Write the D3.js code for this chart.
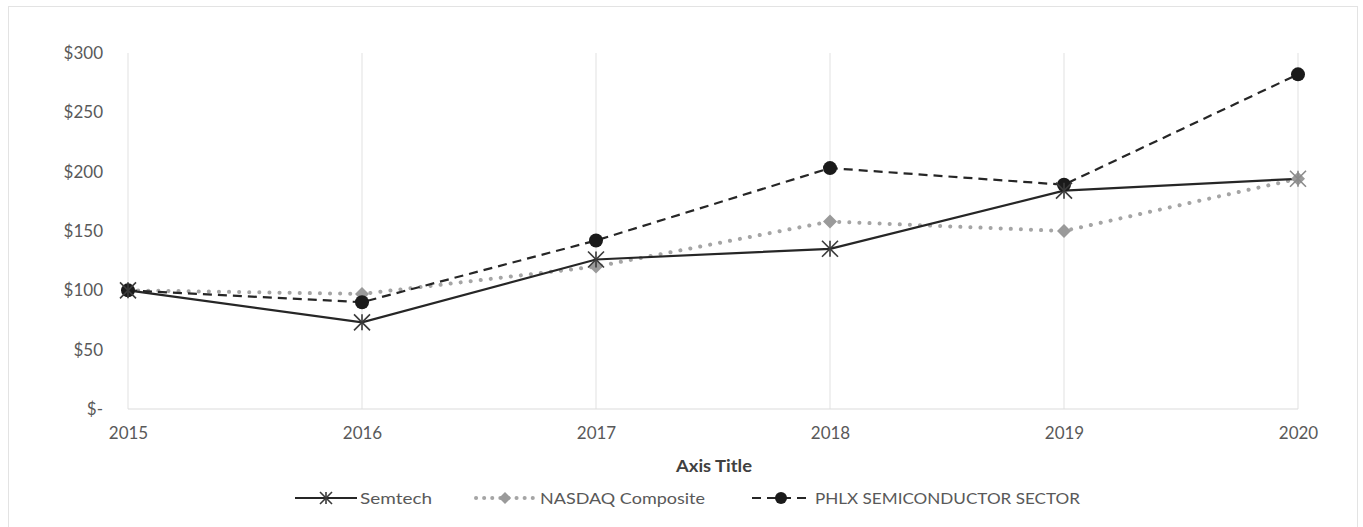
<!DOCTYPE html>
<html><head><meta charset="utf-8">
<script src="https://cdn.jsdelivr.net/npm/d3@7"></script>
<style>body{margin:0;background:#fff;}text{font-family:Lato,"Open Sans","Liberation Sans",sans-serif;}</style>
</head><body>
<svg id="c" width="1363" height="527"></svg>
<script>
const years = [2015, 2016, 2017, 2018, 2019, 2020];
const semtech = [100, 73, 126, 135, 184, 194];
const nasdaq = [100, 97, 120, 158, 150, 194];
const phlx = [100, 90, 142, 203, 189, 282];
const yTicks = [0, 50, 100, 150, 200, 250, 300];
const seriesNames = ["Semtech", "NASDAQ Composite", "PHLX SEMICONDUCTOR SECTOR"];

const svg = d3.select("#c");
svg.append("rect").attr("x", 8.5).attr("y", 6.5).attr("width", 1349).attr("height", 540)
  .attr("fill", "#fff").attr("stroke", "#e3e3e3");

const x = d3.scalePoint().domain(years).range([128, 1298]);
const y = d3.scaleLinear().domain([0, 300]).range([409, 53]);

// vertical gridlines
svg.append("g").selectAll("line").data(years).join("line")
  .attr("x1", d => x(d)).attr("x2", d => x(d)).attr("y1", y(300)).attr("y2", y(0))
  .attr("stroke", "#e6e6e6").attr("stroke-width", 1.2);
// baseline
svg.append("line").attr("x1", x(2015)).attr("x2", x(2020)).attr("y1", y(0)).attr("y2", y(0))
  .attr("stroke", "#dcdcdc").attr("stroke-width", 1.2);

// y axis
const yAxis = d3.axisLeft(y).tickValues(yTicks).tickSize(0).tickPadding(0)
  .tickFormat(d => d === 0 ? "$-" : "$" + d);
const ya = svg.append("g").attr("transform", "translate(103,0)").call(yAxis);
ya.select(".domain").remove();
ya.selectAll("text").attr("fill", "#595959").style("font-size", "17px");

// x axis
const xAxis = d3.axisBottom(x).tickSize(0).tickPadding(0).tickFormat(d => d);
const xa = svg.append("g").attr("transform", "translate(0,427)").call(xAxis);
xa.select(".domain").remove();
xa.selectAll("text").attr("fill", "#595959").style("font-size", "17px");

svg.append("text").attr("x", 714).attr("y", 472).attr("text-anchor", "middle")
  .attr("fill", "#404040").style("font-size", "17px").style("font-weight", "bold")
  .attr("textLength", 76).attr("lengthAdjust", "spacingAndGlyphs").text("Axis Title");

const line = d3.line().x((d, i) => x(years[i])).y(d => y(d));

// NASDAQ dotted
svg.append("path").datum(nasdaq).attr("d", line).attr("fill", "none")
  .attr("stroke", "#a5a5a5").attr("stroke-width", 4).attr("stroke-linecap", "round")
  .attr("stroke-dasharray", "0.1 10");
// PHLX dashed
svg.append("path").datum(phlx).attr("d", line).attr("fill", "none")
  .attr("stroke", "#262626").attr("stroke-width", 2.2).attr("stroke-dasharray", "9 6");
// Semtech solid
svg.append("path").datum(semtech).attr("d", line).attr("fill", "none")
  .attr("stroke", "#262626").attr("stroke-width", 2.2);

function star(g, cx, cy, r, color) {
  const s = g.append("g").attr("transform", `translate(${cx},${cy})`);
  [[-r, -r, r, r], [-r, r, r, -r], [0, -r, 0, r]].forEach(p =>
    s.append("line").attr("x1", p[0]).attr("y1", p[1]).attr("x2", p[2]).attr("y2", p[3])
      .attr("stroke", color).attr("stroke-width", 1.6));
}
function diamond(g, cx, cy, r, color) {
  g.append("path").attr("d", `M${cx},${cy - r}L${cx + r},${cy}L${cx},${cy + r}L${cx - r},${cy}Z`).attr("fill", color);
}

const mk = svg.append("g");
nasdaq.forEach((v, i) => diamond(mk, x(years[i]), y(v), 7, "#9a9a9a"));
phlx.forEach((v, i) => mk.append("circle").attr("cx", x(years[i])).attr("cy", y(v)).attr("r", 7).attr("fill", "#1a1a1a"));
semtech.forEach((v, i) => star(mk, x(years[i]), y(v), 8, i === 5 ? "#8a8a8a" : "#3a3a3a"));

// legend
const lg = svg.append("g");
const ly = 498;
const ts = "16px";
lg.append("line").attr("x1", 295).attr("x2", 357).attr("y1", ly).attr("y2", ly).attr("stroke", "#262626").attr("stroke-width", 2.2);
star(lg, 326, ly, 6, "#3a3a3a");
lg.append("text").attr("x", 360).attr("y", ly + 6).attr("fill", "#595959").style("font-size", ts)
  .attr("textLength", 72).attr("lengthAdjust", "spacingAndGlyphs").text(seriesNames[0]);

lg.append("line").attr("x1", 476).attr("x2", 536).attr("y1", ly).attr("y2", ly).attr("stroke", "#a5a5a5")
  .attr("stroke-width", 4).attr("stroke-linecap", "round").attr("stroke-dasharray", "0.1 8");
diamond(lg, 505, ly, 6, "#9a9a9a");
lg.append("text").attr("x", 540).attr("y", ly + 6).attr("fill", "#595959").style("font-size", ts)
  .attr("textLength", 165).attr("lengthAdjust", "spacingAndGlyphs").text(seriesNames[1]);

lg.append("line").attr("x1", 752).attr("x2", 812).attr("y1", ly).attr("y2", ly).attr("stroke", "#262626")
  .attr("stroke-width", 2.2).attr("stroke-dasharray", "9 6");
lg.append("circle").attr("cx", 781).attr("cy", ly).attr("r", 6).attr("fill", "#1a1a1a");
lg.append("text").attr("x", 815).attr("y", ly + 6).attr("fill", "#595959").style("font-size", ts)
  .attr("textLength", 265).attr("lengthAdjust", "spacingAndGlyphs").text(seriesNames[2]);
</script>
</body></html>
